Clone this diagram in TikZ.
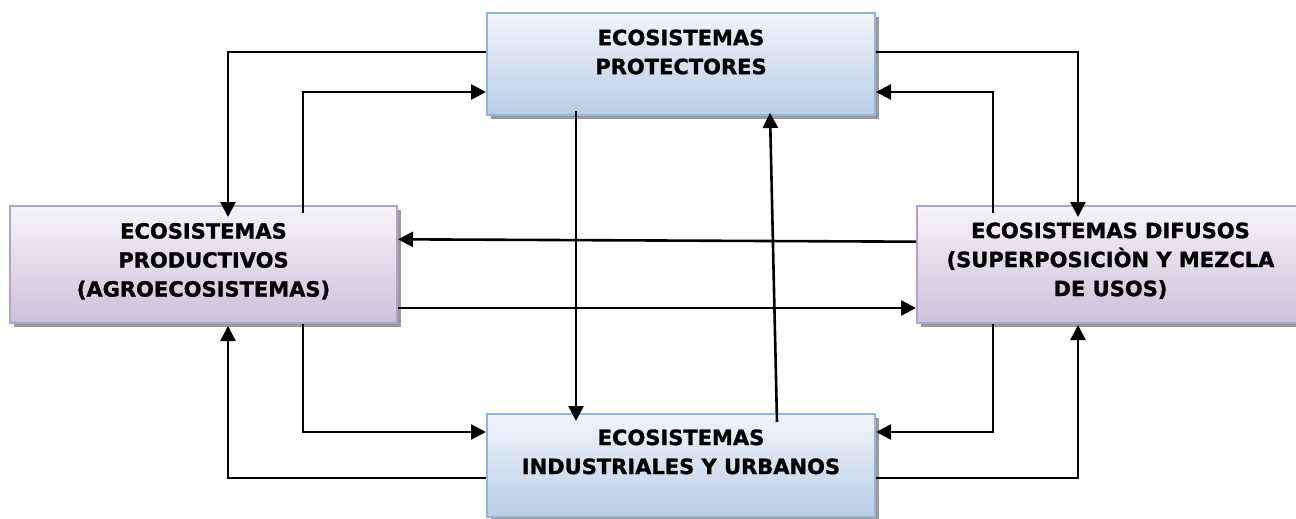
\documentclass[tikz,border=0pt]{standalone}
\usepackage{fontspec}
\setmainfont{DejaVu Sans}[BoldFeatures={FakeBold=1.2}]
\usetikzlibrary{arrows.meta,shadows}
\definecolor{blueTop}{HTML}{F1F5FB}
\definecolor{blueBot}{HTML}{B9CDE5}
\definecolor{blueLine}{HTML}{95B3D7}
\definecolor{lilaTop}{HTML}{F6F3F9}
\definecolor{lilaBot}{HTML}{CCC1DA}
\definecolor{lilaLine}{HTML}{B3A2C7}
\definecolor{shadowGray}{HTML}{9A9A9A}

\begin{document}
\begin{tikzpicture}[x=1pt,y=-1pt,
    box/.style={rectangle,line width=2pt,inner sep=0pt,
      drop shadow={shadow xshift=4pt,shadow yshift=-4pt,fill=shadowGray,opacity=1}},
    bluebox/.style={box,draw=blueLine,top color=blueTop,bottom color=blueBot,minimum width=388pt},
    lilabox/.style={box,draw=lilaLine,top color=lilaTop,bottom color=lilaBot,minimum width=387pt,minimum height=117pt},
    boxtext/.style={align=center,inner sep=0pt,font=\fontsize{21}{29}\selectfont\bfseries},
    conn/.style={line width=2.6pt,-{Triangle[length=15pt,width=15pt]}}]
  \useasboundingbox (0,0) rectangle (1296,519);

  \node[bluebox,minimum height=102pt] (prot) at (681,64) {};
  \node[bluebox,minimum height=103pt] (ind) at (681,465.5) {};
  \node[lilabox] (prod) at (203.5,264.5) {};
  \node[lilabox] (dif) at (1110.5,264.5) {};

  \node[boxtext] (prot-t) at ([yshift=12pt]prot.center) {ECOSISTEMAS\\PROTECTORES};
  \node[boxtext] (ind-t) at ([yshift=13.6pt]ind.center) {ECOSISTEMAS\\INDUSTRIALES Y URBANOS};
  \node[boxtext] (prod-t) at ([yshift=3.3pt]prod.center) {ECOSISTEMAS\\PRODUCTIVOS\\(AGROECOSISTEMAS)};
  \node[boxtext] (dif-t) at ([yshift=3.8pt]dif.center) {ECOSISTEMAS DIFUSOS\\(SUPERPOSICIÒN Y MEZCLA\\DE USOS)};

  \draw[conn] ([yshift=12pt]prot.west) -| ([xshift=24.5pt,yshift=-12pt]prod.north);
  \draw[conn] ([xshift=99.5pt,yshift=-8pt]prod.north) |- ([yshift=-28pt]prot.west);
  \draw[conn] ([yshift=12pt]prot.east) -| ([xshift=-32.5pt,yshift=-12pt]dif.north);
  \draw[conn] ([xshift=-117.5pt,yshift=-8pt]dif.north) |- ([yshift=-28pt]prot.east);
  \draw[conn] ([xshift=-105pt,yshift=5pt]prot.south) -- ([xshift=-105pt,yshift=-8pt]ind.north);
  \draw[conn] ([xshift=96pt,yshift=-9pt]ind.north) -- ([xshift=89pt,yshift=3pt]prot.south);
  \draw[conn] ([yshift=22.8pt]dif.west) -- ([yshift=25.2pt]prod.east);
  \draw[conn] ([yshift=-43.5pt]prod.east) -- ([yshift=-43.5pt]dif.west);
  \draw[conn] ([xshift=99.5pt]prod.south) |- ([yshift=33.5pt]ind.west);
  \draw[conn] ([yshift=-12.5pt]ind.west) -| ([xshift=24.5pt,yshift=-2pt]prod.south);
  \draw[conn] ([xshift=-117.5pt]dif.south) |- ([yshift=33.5pt]ind.east);
  \draw[conn] ([yshift=-12.5pt]ind.east) -| ([xshift=-32.5pt,yshift=-1pt]dif.south);
\end{tikzpicture}
\end{document}
